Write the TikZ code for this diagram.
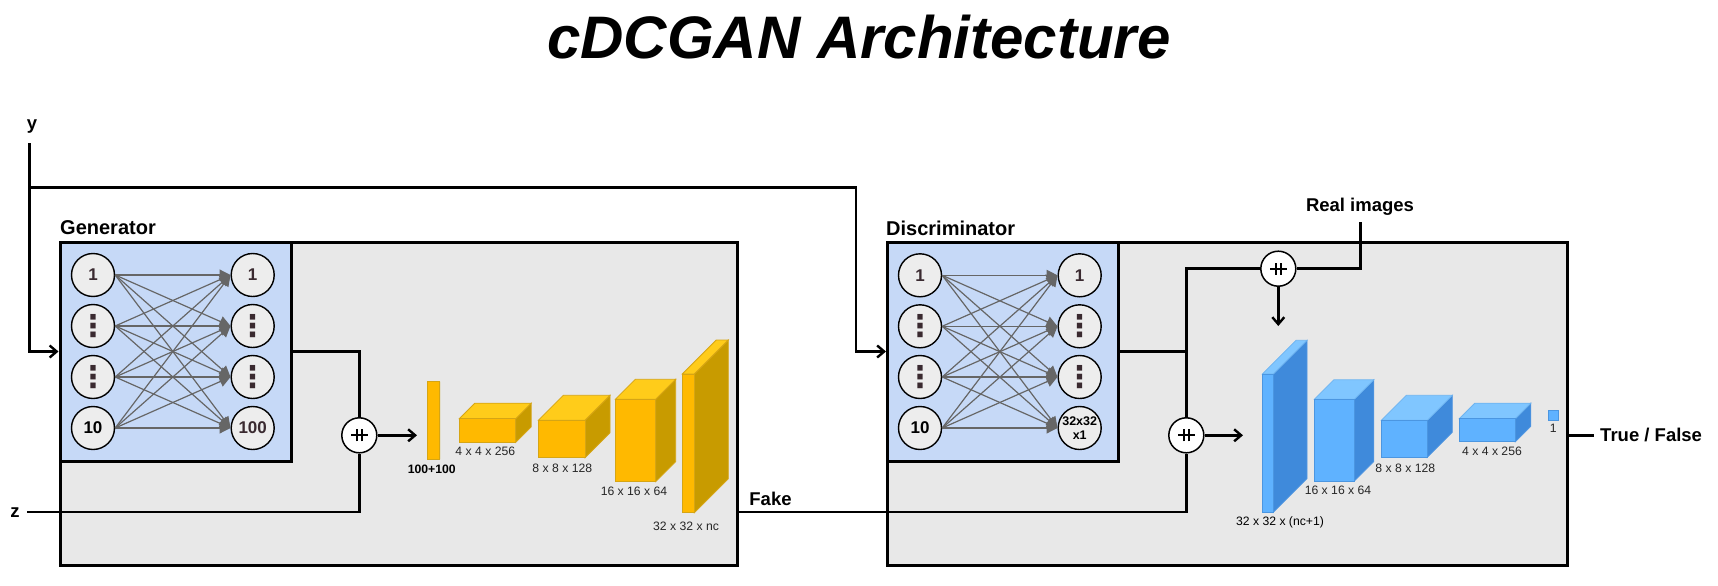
\documentclass[tikz,border=0pt]{standalone}
\usepackage{fontspec}
\setmainfont{Liberation Sans}
\newfontfamily\dotsfont{DejaVu Sans}
\usetikzlibrary{arrows.meta}

\definecolor{boxgrey}{HTML}{E8E8E8}
\definecolor{panelblue}{HTML}{C6D9F7}
\definecolor{neurongrey}{HTML}{EDEDED}
\definecolor{linkgrey}{HTML}{666666}
\definecolor{numdark}{HTML}{3A2A30}

\newcommand{\neurondots}{{\fontsize{30}{30}\selectfont\dotsfont\bfseries ⋮}}

\tikzset{
  wire/.style={line width=2.8pt},
  wirearrow/.style={wire, -{Straight Barb[length=7pt,width=12pt,line width=2.4pt]}},
  outerbox/.style={draw, line width=3pt, fill=boxgrey, inner sep=0pt, minimum width=677pt, minimum height=323pt},
  panel/.style={draw, line width=3pt, fill=panelblue, inner sep=0pt, minimum width=231pt, minimum height=219pt},
  neuron/.style={circle, draw, line width=1.4pt, fill=neurongrey, inner sep=0pt, minimum size=43pt,
    align=center, font=\fontsize{17}{18}\selectfont\bfseries},
  link/.style={draw=linkgrey, line width=1.2pt, -{Triangle[length=11pt,width=11pt]}},
  adder/.style={circle, draw, line width=1.5pt, fill=white, inner sep=0pt, minimum size=35pt,
    path picture={
      \draw[line width=2pt] ([xshift=-8.3pt]path picture bounding box.center) -- ([xshift=8.3pt]path picture bounding box.center);
      \draw[line width=2pt] ([xshift=-2.8pt,yshift=-6pt]path picture bounding box.center) -- ([xshift=-2.8pt,yshift=6pt]path picture bounding box.center);
      \draw[line width=2pt] ([xshift=2.8pt,yshift=-6pt]path picture bounding box.center) -- ([xshift=2.8pt,yshift=6pt]path picture bounding box.center);
    }},
  headlabel/.style={inner sep=0pt, font=\fontsize{18.5}{20}\selectfont\bfseries},
  boxname/.style={inner sep=0pt, anchor=west, font=\fontsize{20}{22}\selectfont\bfseries},
  dimlabel/.style={inner sep=0pt, text=black!85, font=\fontsize{12.2}{14}\selectfont},
  goldfront/.style={fill={rgb,255:red,255;green,185;blue,0}, draw={rgb,255:red,214;green,165;blue,20}, line width=0.8pt},
  goldtop/.style={fill={rgb,255:red,255;green,204;blue,26}, draw={rgb,255:red,214;green,165;blue,20}, line width=0.8pt},
  goldside/.style={fill={rgb,255:red,200;green,155;blue,0}, draw={rgb,255:red,214;green,165;blue,20}, line width=0.8pt},
  bluefront/.style={fill={rgb,255:red,95;green,178;blue,255}, draw={rgb,255:red,75;green,150;blue,225}, line width=0.8pt},
  bluetop/.style={fill={rgb,255:red,128;green,198;blue,255}, draw={rgb,255:red,110;green,180;blue,240}, line width=0.8pt},
  blueside/.style={fill={rgb,255:red,63;green,138;blue,219}, draw={rgb,255:red,80;green,150;blue,225}, line width=0.8pt},
}

\begin{document}
\begin{tikzpicture}[x=1pt,y=-1pt]

    \useasboundingbox (0,0) rectangle (1718,586);

    % Title
    \node[inner sep=0pt, font=\fontsize{60}{66}\selectfont\bfseries\itshape] (title) at (859,37.5) {cDCGAN Architecture};

    % Draw the grey boxes and the blue panels
    \node[outerbox] (genbox) at (398.5,403.5) {};
    \node[panel] (genpanel) at (175.5,351.5) {};
    \node[outerbox, minimum width=680.5pt] (discbox) at (1227.5,403.5) {};
    \node[panel] (discpanel) at (1003,351.5) {};

    % Box titles
    \node[boxname] (genname) at (60,228) {Generator};
    \node[boxname] (discname) at (886,228) {Discriminator};

    % Generator neurons
    \node[neuron, text=numdark] (gl1) at (93,275) {1};
    \node[neuron, text=numdark] (gl2) at (93,326) {\neurondots};
    \node[neuron, text=numdark] (gl3) at (93,377) {\neurondots};
    \node[neuron] (gl4) at (93,428) {10};
    \node[neuron, text=numdark] (gr1) at (252.7,275) {1};
    \node[neuron, text=numdark] (gr2) at (252.7,326) {\neurondots};
    \node[neuron, text=numdark] (gr3) at (252.7,377) {\neurondots};
    \node[neuron, text=numdark] (gr4) at (252.7,428) {100};

    % Discriminator neurons
    \node[neuron, text=numdark] (dl1) at (920,275.3) {1};
    \node[neuron, text=numdark] (dl2) at (920,326.3) {\neurondots};
    \node[neuron, text=numdark] (dl3) at (920,377) {\neurondots};
    \node[neuron] (dl4) at (920,428) {10};
    \node[neuron, text=numdark] (dr1) at (1079.7,275.3) {1};
    \node[neuron, text=numdark] (dr2) at (1079.7,326.3) {\neurondots};
    \node[neuron, text=numdark] (dr3) at (1079.7,377) {\neurondots};
    \node[neuron, font=\fontsize{12.5}{14.5}\selectfont\bfseries] (dr4) at (1079.7,428) {32x32\\x1};

    % Links between the neurons
    \foreach \a in {1,...,4}
      \foreach \b in {1,...,4} {
        \draw[link] (gl\a.east) -- (gr\b.west);
        \draw[link] (dl\a.east) -- (dr\b.west);
      }

    % Generator blocks
    \foreach \x/\y/\w/\h/\d in {427.3/381.7/12.4/77.6/0, 459.3/418.7/56.4/23.6/15.5, 538.3/420.3/46.7/37.4/25,
                                615.3/399.3/40.4/82.4/20, 682.3/374/12/138.7/34} {
      \filldraw[goldside] ({\x+\w},\y) -- ++(\d,-\d) -- ++(0,\h) -- ++(-\d,\d) -- cycle;
      \filldraw[goldtop] (\x,\y) -- ++(\d,-\d) -- ++(\w,0) -- ++(-\d,\d) -- cycle;
      \filldraw[goldfront] (\x,\y) rectangle ++(\w,\h);
    }

    % Discriminator blocks
    \foreach \x/\y/\w/\h/\d in {1262.3/374/11/138.3/33.7, 1314.3/399.3/40/81.7/19.5, 1381.3/420.3/46/37/25,
                                1459.3/418.7/56/23/15.5, 1548.3/410/9.7/10/0} {
      \filldraw[blueside] ({\x+\w},\y) -- ++(\d,-\d) -- ++(0,\h) -- ++(-\d,\d) -- cycle;
      \filldraw[bluetop] (\x,\y) -- ++(\d,-\d) -- ++(\w,0) -- ++(-\d,\d) -- cycle;
      \filldraw[bluefront] (\x,\y) rectangle ++(\w,\h);
    }

    % Block sizes
    \node[dimlabel, text=black, font=\fontsize{12.2}{14}\selectfont\bfseries] (size100) at (431.7,469.7) {100+100};
    \node[dimlabel] (gsize4) at (485.3,451.3) {4 x 4 x 256};
    \node[dimlabel] (gsize8) at (562.3,468.7) {8 x 8 x 128};
    \node[dimlabel] (gsize16) at (634,491.7) {16 x 16 x 64};
    \node[dimlabel] (gsize32) at (686,526.7) {32 x 32 x nc};
    \node[dimlabel, text=black] (dsize32) at (1280,522) {32 x 32 x (nc+1)};
    \node[dimlabel] (dsize16) at (1338,490.7) {16 x 16 x 64};
    \node[dimlabel] (dsize8) at (1405.3,468.7) {8 x 8 x 128};
    \node[dimlabel] (dsize4) at (1492,451.7) {4 x 4 x 256};
    \node[dimlabel] (dsize1) at (1553.3,428.7) {1};

    % Adders
    \node[adder] (genadd) at (359.3,435.3) {};
    \node[adder] (discadd) at (1186.3,435.3) {};
    \node[adder] (realadd) at (1278.3,268.7) {};

    % Inputs and outputs
    \node[headlabel] (ylabel) at (32,127) {y};
    \node[headlabel] (zlabel) at (15,513) {z};
    \node[headlabel] (fakelabel) at (770.5,498.5) {Fake};
    \node[headlabel] (reallabel) at (1360,206.5) {Real images};
    \node[headlabel, anchor=west] (resultlabel) at (1600,435) {True / False};

    \coordinate (ytop) at (29.5,143);
    \coordinate (ybranch) at (29.5,187.3);
    \coordinate (ybend) at (856,351.5);
    \coordinate (zstart) at (27,512);
    \coordinate (fakestart) at (737,512);
    \coordinate (realtop) at (1360.3,222.3);
    \coordinate (genout) at (417,435.3);
    \coordinate (discout) at (1243,435.3);
    \coordinate (realout) at (1278.3,326);
    \coordinate (resultend) at (1594,435.3);

    % Draw the connectors
    \draw[wirearrow] (ytop) |- (genpanel.west);
    \draw[wirearrow] (ybranch) -| (ybend) -- (discpanel.west);
    \draw[wire] (zstart) -| (genadd);
    \draw[wire] (genpanel.east) -| (genadd);
    \draw[wirearrow] (genadd) -- (genout);
    \draw[wire] (fakestart) -| (discadd);
    \draw[wire] (discpanel.east) -- (discpanel.east -| discadd);
    \draw[wire] (discadd) |- (realadd);
    \draw[wire] (realtop) |- (realadd);
    \draw[wirearrow] (realadd) -- (realout);
    \draw[wirearrow] (discadd) -- (discout);
    \draw[wire] (discbox.east |- discadd) -- (resultend);

\end{tikzpicture}
\end{document}
